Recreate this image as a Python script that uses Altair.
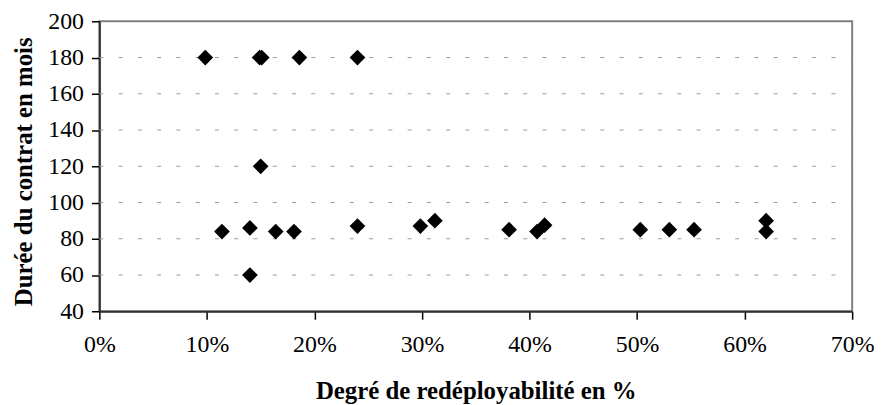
import altair as alt
import pandas as pd

# Data
redeploy = [0.0985, 0.149, 0.151, 0.186, 0.240, 0.150,
            0.114, 0.140, 0.164, 0.181, 0.240, 0.140,
            0.2985, 0.312, 0.381, 0.407, 0.414,
            0.503, 0.530, 0.553, 0.620, 0.620]
duree = [180, 180, 180, 180, 180, 120,
         84, 86, 84, 84, 87, 60,
         87, 90, 85, 84, 87.5,
         85, 85, 85, 90, 84]

x_ticks = [0, 0.1, 0.2, 0.3, 0.4, 0.5, 0.6, 0.7]
y_ticks = [40, 60, 80, 100, 120, 140, 160, 180, 200]
grid_values = [60, 80, 100, 120, 140, 160, 180]

df = pd.DataFrame({"x": redeploy, "y": duree})
grid_df = pd.DataFrame({"g": grid_values})

FONT = "Liberation Serif"

xscale = alt.Scale(domain=[0, 0.7], nice=False, zero=False)
yscale = alt.Scale(domain=[40, 200], nice=False, zero=False)

yaxis = alt.Axis(
    title="Durée du contrat en mois",
    values=y_ticks,
    grid=False,
    tickSize=8,
    labelPadding=8,
    labelFlush=False,
    titleBaseline="alphabetic",
    titleX=-68,
    titleY=151,
)

grid = alt.Chart(grid_df).mark_rule(
    color="#9a9a9a", strokeWidth=1, strokeDash=[4, 15.4]
).encode(
    y=alt.Y("g:Q", scale=yscale, axis=yaxis),
    x=alt.value(0),
    x2=alt.value(758),
)

points = alt.Chart(df).mark_point(
    shape="diamond", filled=True, color="black", size=250, opacity=1
).encode(
    x=alt.X(
        "x:Q",
        scale=xscale,
        axis=alt.Axis(
            title="Degré de redéployabilité en %",
            values=x_ticks,
            format=".0%",
            grid=False,
            tickSize=8,
            labelPadding=14,
            labelFlush=False,
            titleBaseline="alphabetic",
            titleY=88,
        ),
    ),
    y=alt.Y("y:Q", scale=yscale, axis=yaxis),
)

chart = alt.layer(grid, points).properties(
    width=758,
    height=292,
    background="white",
    autosize=alt.AutoSizeParams(type="none"),
    padding={"left": 92, "top": 12, "right": 22, "bottom": 93},
).configure_view(
    stroke="#808080", strokeWidth=2, fill="white"
).configure_axis(
    labelFont=FONT,
    titleFont=FONT,
    labelFontSize=24,
    titleFontSize=25,
    titleFontWeight="bold",
    labelColor="black",
    titleColor="black",
    domainColor="#303030",
    domainWidth=2,
    tickColor="black",
    tickWidth=1.5,
)

chart.save("out.html", embed_options={"renderer": "svg", "actions": False})
